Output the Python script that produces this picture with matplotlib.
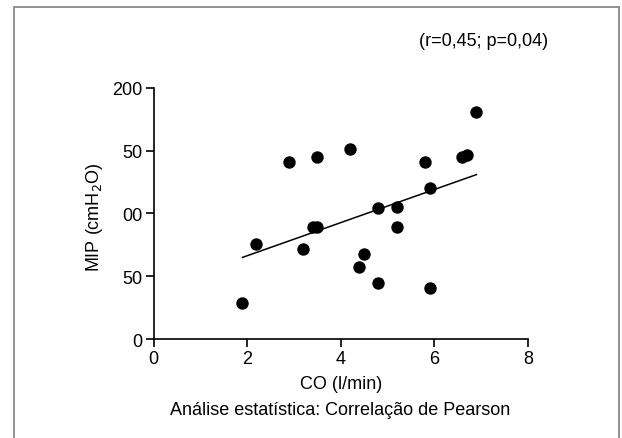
import matplotlib.pyplot as plt
from matplotlib.patches import Rectangle

plt.rcParams['font.family'] = ['Liberation Sans', 'DejaVu Sans']

# CO (l/min) vs MIP (cmH2O)
co = [1.9, 2.2, 2.9, 3.2, 3.4, 3.5, 3.5, 4.2, 4.4, 4.5, 4.8, 4.8, 5.2, 5.2, 5.8, 5.9, 5.9, 6.6, 6.7, 6.9]
mip = [29, 76, 141, 72, 89, 89, 145, 151, 57, 68, 104, 45, 105, 89, 141, 120, 41, 145, 147, 181]

# regression line end points
fit_x = [1.9, 6.9]
fit_y = [65, 131]

xticks = [0, 2, 4, 6, 8]
yticks = [0, 50, 100, 150, 200]
ytick_labels = ['0', '50', '00', '50', '200']

fig = plt.figure(figsize=(6.22, 4.39), dpi=100)
ax = fig.add_axes([0.2468, 0.2255, 0.602, 0.5718])

ax.scatter(co, mip, s=80, color='black', zorder=3, linewidths=0)
ax.plot(fit_x, fit_y, color='black', linewidth=1.1)

ax.set_xlim(0, 8)
ax.set_ylim(0, 200)
ax.set_xticks(xticks)
ax.set_yticks(yticks)
ax.set_yticklabels(ytick_labels)
ax.spines['top'].set_visible(False)
ax.spines['right'].set_visible(False)
for s in ['left', 'bottom']:
    ax.spines[s].set_linewidth(1.2)
ax.tick_params(length=6, width=1.2, labelsize=13, pad=2)
ax.set_xlabel('CO (l/min)', fontsize=13, labelpad=6)
ax.set_ylabel('MIP (cmH$_2$O)', fontsize=13)
ax.yaxis.set_label_coords(-0.13, 0.49)

fig.text(484 / 622, 1 - 42 / 439, '(r=0,45; p=0,04)', fontsize=13, ha='center', va='center')
fig.text(340 / 622, 1 - 411 / 439, 'Análise estatística: Correlação de Pearson', fontsize=13,
         ha='center', va='center')

# gray frame around the figure
fig.patches.append(Rectangle((14 / 622, -0.05), (619 - 14) / 622, 1.05 - 8 / 439,
                             transform=fig.transFigure, fill=False, edgecolor='#888888',
                             linewidth=1.3))

fig.savefig('out.png', dpi=100)
